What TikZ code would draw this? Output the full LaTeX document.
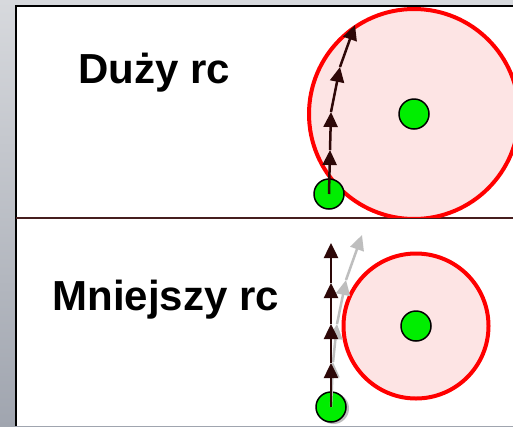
\documentclass[tikz,border=0pt]{standalone}
\usepackage{fontspec}
\setmainfont{Liberation Sans}
\usetikzlibrary{arrows.meta}
\definecolor{dotgreen}{RGB}{0,238,0}
\definecolor{trackc}{RGB}{45,8,8}
\definecolor{ghostc}{RGB}{190,190,190}
\definecolor{pinkfill}{RGB}{253,228,228}
\definecolor{divc}{RGB}{70,30,30}
\definecolor{bgtop}{RGB}{215,217,221}
\definecolor{bgbot}{RGB}{160,165,175}
\begin{document}
\begin{tikzpicture}[x=1pt,y=-1pt,
  dot/.style={circle,draw=black,line width=1.5pt,fill=dotgreen,inner sep=0pt,minimum size=30pt},
  ring/.style={circle,draw=red,line width=4pt,fill=pinkfill,inner sep=0pt},
  trk/.style={draw=trackc,line width=2.5pt,-{Triangle[length=15pt,width=14pt]}},
  ghost/.style={draw=ghostc,line width=2.5pt,-{Triangle[length=15pt,width=14pt]}},
  label/.style={anchor=base west,font=\bfseries\fontsize{42}{50}\selectfont}]
\useasboundingbox (0,0) rectangle (513,426);
\shade[top color=bgtop,bottom color=bgbot] (0,0) rectangle (513,426);
\fill[white] (16,6) rectangle (513,426);
\draw[line width=2pt] (16,426) -- (16,6) -- (513,6);
\draw[divc,line width=1.5pt] (16,218) -- (513,218);

% top panel
\node[label] (t1) at (75,83) {Duży rc};
\begin{scope}
\clip (16,6) rectangle (513,217);
\node[ring,minimum size=210pt] (c1) at (414,114) {};
\end{scope}
\node[dot] (n1) at (414,114) {};
\node[dot] (p1) at (329,194) {};
\coordinate (a1) at (330,150);
\coordinate (a2) at (331,112);
\coordinate (a3) at (340,67);
\coordinate (a4) at (355,25);
\draw[trk] (p1.center) -- (a1);
\draw[trk] (a1) -- (a2);
\draw[trk] (a2) -- (a3);
\draw[trk] (a3) -- (a4);

% bottom panel
\node[label] (t2) at (49,310) {Mniejszy rc};
\node[ring,minimum size=145pt] (c2) at (416,326) {};
\node[dot] (n2) at (416,326) {};
\fill[ghostc] (333.5,408.5) circle (15.5pt);
\node[dot] (p2) at (331,407) {};
\coordinate (g1) at (333,362);
\coordinate (g2) at (337,324);
\coordinate (g3) at (346,280);
\coordinate (g4) at (362,235);
\draw[ghost] (p2.center) -- (g1);
\draw[ghost] (g1) -- (g2);
\draw[ghost] (g2) -- (g3);
\draw[ghost] (g3) -- (g4);
\coordinate (b1) at (331,363);
\coordinate (b2) at (331,324);
\coordinate (b3) at (331,283);
\coordinate (b4) at (331,243);
\draw[trk] (p2.center) -- (b1);
\draw[trk] (b1) -- (b2);
\draw[trk] (b2) -- (b3);
\draw[trk] (b3) -- (b4);
\end{tikzpicture}
\end{document}
